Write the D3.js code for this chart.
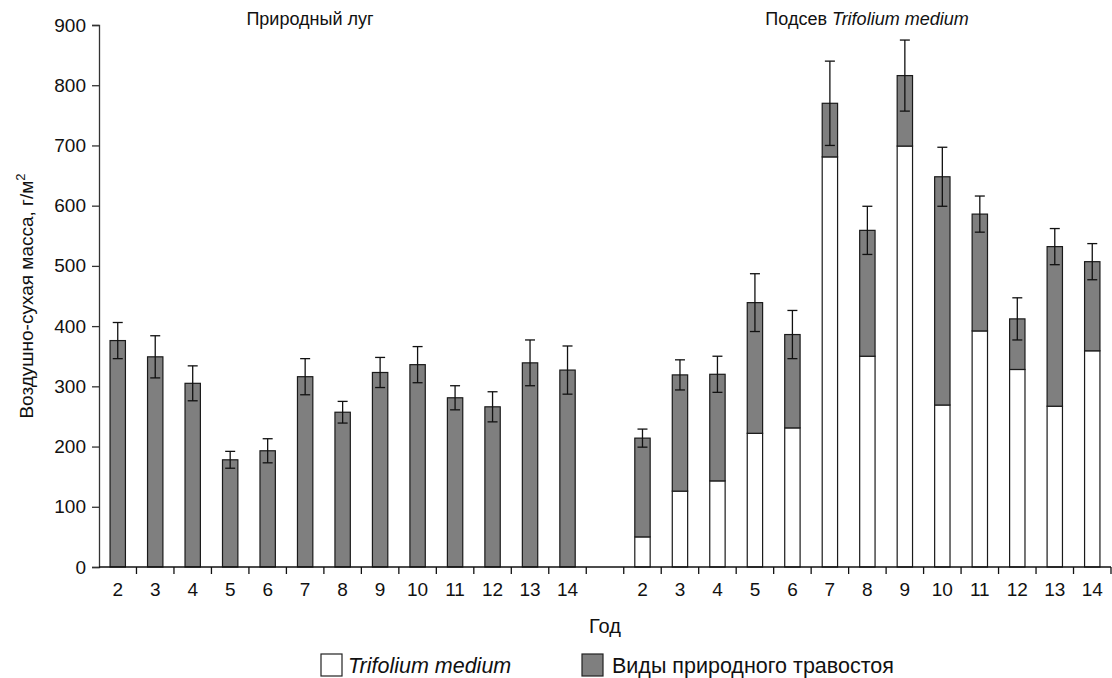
<!DOCTYPE html>
<html lang="ru">
  <head>
    <meta charset="UTF-8" />
    <title>Воздушно-сухая масса – D3.js</title>
    <script src="https://d3js.org/d3.v7.min.js"></script>
    <style>
      body {
        margin: 0;
        background: #fff;
        font-family: 'Liberation Sans', Arial, sans-serif;
      }
      svg {
        display: block;
      }
      .tick text {
        font-size: 19px;
        fill: #111;
      }
      .lbl {
        fill: #111;
      }
    </style>
  </head>
  <body>
    <svg width="1112" height="678"></svg>

    <script>
      // years (x categories), same for both plots
      const years = [2, 3, 4, 5, 6, 7, 8, 9, 10, 11, 12, 13, 14];

      // natural meadow: total dry mass and error
      const meadowTotal = [376, 349, 305, 178, 193, 316, 257, 323, 336, 281, 266, 339, 327];
      const meadowErr = [30, 35, 29, 14, 20, 30, 18, 25, 30, 20, 25, 38, 40];

      // oversown Trifolium medium: clover part, native part, error of total
      const sownTrifolium = [50, 126, 143, 222, 231, 681, 350, 699, 269, 392, 328, 267, 359];
      const sownNative = [164, 193, 177, 217, 155, 89, 209, 117, 379, 194, 84, 265, 148];
      const sownErr = [15, 25, 30, 48, 40, 70, 40, 59, 49, 30, 35, 30, 30];

      const yTicks = [0, 100, 200, 300, 400, 500, 600, 700, 800, 900];

      const x0 = 99,
        x1 = 1111,
        yTop = 25,
        yBottom = 567;

      const svg = d3.select('svg');

      // 13 slots, one empty slot, 13 slots
      const keys = years
        .map((d) => 'L' + d)
        .concat(['gap'])
        .concat(years.map((d) => 'R' + d));

      const x = d3.scaleBand().domain(keys).range([x0, x1]).padding(0);
      const barW = x.bandwidth() * 0.41;

      const y = d3.scaleLinear().domain([0, 900]).range([yBottom, yTop]);

      // rows for plotting
      const meadow = years.map((yr, i) => ({
        key: 'L' + yr,
        total: meadowTotal[i],
        err: meadowErr[i],
      }));
      const sown = years.map((yr, i) => ({
        key: 'R' + yr,
        trifolium: sownTrifolium[i],
        native: sownNative[i],
        err: sownErr[i],
      }));

      const stacked = d3.stack().keys(['trifolium', 'native'])(sown);
      const fills = { trifolium: '#ffffff', native: '#7f7f7f' };

      // meadow bars
      svg
        .append('g')
        .selectAll('rect')
        .data(meadow)
        .join('rect')
        .attr('x', (d) => x(d.key) + (x.bandwidth() - barW) / 2)
        .attr('y', (d) => y(d.total))
        .attr('width', barW)
        .attr('height', (d) => y(0) - y(d.total))
        .attr('fill', '#7f7f7f')
        .attr('stroke', '#1a1a1a')
        .attr('stroke-width', 1.2);

      // stacked bars
      svg
        .append('g')
        .selectAll('g')
        .data(stacked)
        .join('g')
        .attr('fill', (s) => fills[s.key])
        .selectAll('rect')
        .data((s) => s)
        .join('rect')
        .attr('x', (d) => x(d.data.key) + (x.bandwidth() - barW) / 2)
        .attr('y', (d) => y(d[1]))
        .attr('width', barW)
        .attr('height', (d) => y(d[0]) - y(d[1]))
        .attr('stroke', '#1a1a1a')
        .attr('stroke-width', 1.2);

      // error bars
      const errRows = meadow
        .map((d) => ({ key: d.key, v: d.total, e: d.err }))
        .concat(sown.map((d) => ({ key: d.key, v: d.trifolium + d.native, e: d.err })));

      const eg = svg
        .append('g')
        .attr('stroke', '#111')
        .attr('stroke-width', 1.3)
        .selectAll('g')
        .data(errRows)
        .join('g')
        .attr('transform', (d) => `translate(${x(d.key) + x.bandwidth() / 2},0)`);

      eg.append('line')
        .attr('y1', (d) => y(d.v + d.e))
        .attr('y2', (d) => y(d.v - d.e));
      eg.append('line')
        .attr('x1', -5)
        .attr('x2', 5)
        .attr('y1', (d) => y(d.v + d.e))
        .attr('y2', (d) => y(d.v + d.e));
      eg.append('line')
        .attr('x1', -5)
        .attr('x2', 5)
        .attr('y1', (d) => y(d.v - d.e))
        .attr('y2', (d) => y(d.v - d.e));

      // y axis
      const yAxis = svg
        .append('g')
        .attr('transform', `translate(${x0},0)`)
        .call(d3.axisLeft(y).tickValues(yTicks).tickSize(7).tickPadding(6));
      yAxis.select('.domain').attr('stroke', '#333').attr('stroke-width', 1.3);
      yAxis.selectAll('.tick line').attr('stroke', '#333').attr('stroke-width', 1.3);
      yAxis.selectAll('text').attr('font-family', 'Liberation Sans, Arial, sans-serif');

      // x axis: labels centered, ticks at slot edges
      const xAxis = svg
        .append('g')
        .attr('transform', `translate(0,${yBottom})`)
        .call(
          d3
            .axisBottom(x)
            .tickSize(0)
            .tickPadding(16)
            .tickFormat((k) => (k === 'gap' ? '' : k.slice(1))),
        );
      xAxis
        .select('.domain')
        .attr('d', `M${x0},0H${x1}`)
        .attr('stroke', '#111')
        .attr('stroke-width', 1.5);
      xAxis.selectAll('text').attr('font-family', 'Liberation Sans, Arial, sans-serif');

      svg
        .append('g')
        .attr('stroke', '#111')
        .attr('stroke-width', 1.3)
        .selectAll('line')
        .data(keys.slice(1).concat(['end']))
        .join('line')
        .attr('x1', (k) => (k === 'end' ? x1 : x(k)))
        .attr('x2', (k) => (k === 'end' ? x1 : x(k)))
        .attr('y1', yBottom)
        .attr('y2', yBottom + 7);

      // group titles
      svg
        .append('text')
        .attr('class', 'lbl')
        .attr('x', 310)
        .attr('y', 25)
        .attr('text-anchor', 'middle')
        .attr('font-size', 18)
        .text('Природный луг');

      const t2 = svg
        .append('text')
        .attr('class', 'lbl')
        .attr('x', 867)
        .attr('y', 25)
        .attr('text-anchor', 'middle')
        .attr('font-size', 18);
      t2.append('tspan').text('Подсев ');
      t2.append('tspan').attr('font-style', 'italic').text('Trifolium medium');

      // axis titles
      const yl = svg
        .append('text')
        .attr('class', 'lbl')
        .attr('font-size', 19)
        .attr('transform', `translate(33,${(yTop + yBottom) / 2}) rotate(-90)`)
        .attr('text-anchor', 'middle');
      yl.append('tspan').text('Воздушно-сухая масса, г/м');
      yl.append('tspan').attr('dy', -8).attr('font-size', 13).text('2');

      svg
        .append('text')
        .attr('class', 'lbl')
        .attr('font-size', 20)
        .attr('x', (x0 + x1) / 2)
        .attr('y', 633)
        .attr('text-anchor', 'middle')
        .text('Год');

      // legend
      const legend = [
        { label: 'Trifolium medium', fill: '#ffffff', italic: true, x: 321 },
        { label: 'Виды природного травостоя', fill: '#7f7f7f', italic: false, x: 582 },
      ];
      const lg = svg
        .append('g')
        .selectAll('g')
        .data(legend)
        .join('g')
        .attr('transform', (d) => `translate(${d.x},654)`);
      lg.append('rect')
        .attr('width', 21)
        .attr('height', 22)
        .attr('fill', (d) => d.fill)
        .attr('stroke', '#222')
        .attr('stroke-width', 1.2);
      lg.append('text')
        .attr('class', 'lbl')
        .attr('font-size', 21.5)
        .attr('x', (d) => (d.italic ? 27 : 30))
        .attr('y', 19)
        .attr('font-style', (d) => (d.italic ? 'italic' : 'normal'))
        .text((d) => d.label);
    </script>
  </body>
</html>
